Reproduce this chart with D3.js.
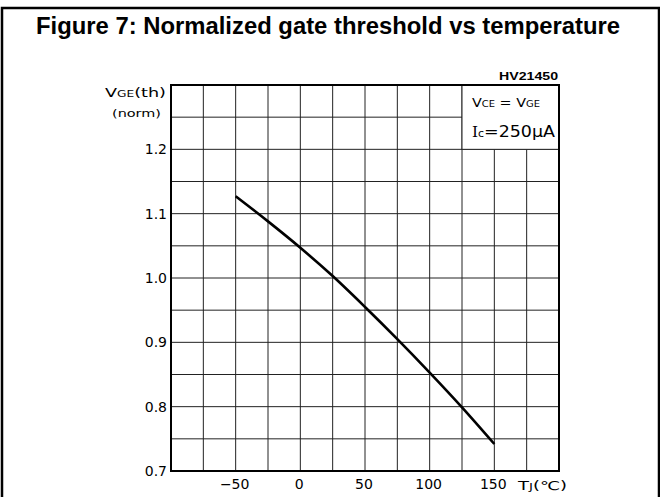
<!DOCTYPE html>
<html>
<head>
<meta charset="utf-8">
<script src="https://cdn.jsdelivr.net/npm/d3@7"></script>
<style>
  body { margin: 0; background: #fff; }
  svg { display: block; }
</style>
</head>
<body>
<svg id="chart" width="660" height="497"></svg>
<script>
// data
const tempC   = [-50, -25, 0, 25, 50, 75, 100, 125, 150];
const vgeNorm = [1.127, 1.088, 1.047, 1.003, 0.955, 0.905, 0.853, 0.799, 0.742];
const xTicks  = [-50, 0, 50, 100, 150];
const yTicks  = [0.7, 0.8, 0.9, 1.0, 1.1, 1.2];

const svg = d3.select('#chart');
const W = 660, H = 497;
const m = { left: 171, right: 559, top: 85, bottom: 471 };

const x = d3.scaleLinear().domain([-100, 200]).range([m.left, m.right]);
const y = d3.scaleLinear().domain([0.7, 1.3]).range([m.bottom, m.top]);

// outer frame (no bottom edge)
svg.append('path')
  .attr('d', `M2,${H} L2,8 L${W - 1},8 L${W - 1},${H}`)
  .attr('fill', 'none').attr('stroke', '#000').attr('stroke-width', 2.5);

// title
svg.append('text')
  .attr('x', 328).attr('y', 34)
  .attr('text-anchor', 'middle')
  .attr('textLength', 584).attr('lengthAdjust', 'spacingAndGlyphs')
  .style('font', 'bold 23px "Liberation Sans", Arial, sans-serif')
  .text('Figure 7: Normalized gate threshold vs temperature');

svg.append('text')
  .attr('x', 558).attr('y', 80)
  .attr('text-anchor', 'end')
  .attr('textLength', 59).attr('lengthAdjust', 'spacingAndGlyphs')
  .style('font', 'bold 10px "Liberation Sans", Arial, sans-serif')
  .text('HV21450');

// grid
const g = svg.append('g');
g.selectAll('line.v')
  .data(d3.range(-75, 200, 25))
  .enter().append('line')
    .attr('x1', d => x(d)).attr('x2', d => x(d))
    .attr('y1', m.top).attr('y2', m.bottom)
    .attr('stroke', '#222').attr('stroke-width', 1);
g.selectAll('line.h')
  .data(d3.range(0.75, 1.29, 0.05))
  .enter().append('line')
    .attr('y1', d => y(d)).attr('y2', d => y(d))
    .attr('x1', m.left).attr('x2', m.right)
    .attr('stroke', '#222').attr('stroke-width', 1);

// condition box
svg.append('rect')
  .attr('x', x(125)).attr('y', y(1.3))
  .attr('width', x(200) - x(125)).attr('height', y(1.2) - y(1.3))
  .attr('fill', '#fff').attr('stroke', '#222').attr('stroke-width', 1);

const cond = svg.append('text')
  .attr('x', 472).attr('y', 107)
  .attr('textLength', 68).attr('lengthAdjust', 'spacingAndGlyphs')
  .style('font', '13px "DejaVu Sans", sans-serif');
cond.append('tspan').text('V');
cond.append('tspan').style('font-size', '9px').text('CE');
cond.append('tspan').text(' = V');
cond.append('tspan').style('font-size', '9px').text('GE');

const ic = svg.append('text')
  .attr('x', 472).attr('y', 137)
  .attr('textLength', 83).attr('lengthAdjust', 'spacingAndGlyphs')
  .style('font', '16px "DejaVu Sans", sans-serif');
ic.append('tspan').style('font-family', '"DejaVu Serif", serif').style('font-size', '14px').text('I');
ic.append('tspan').style('font-size', '10px').text('c');
ic.append('tspan').text('=250μA');

// frame of plot
svg.append('rect')
  .attr('x', m.left).attr('y', m.top)
  .attr('width', m.right - m.left).attr('height', m.bottom - m.top)
  .attr('fill', 'none').attr('stroke', '#000').attr('stroke-width', 2);

// curve
const line = d3.line()
  .x((d, i) => x(tempC[i]))
  .y(d => y(d))
  .curve(d3.curveCatmullRom);
svg.append('path')
  .datum(vgeNorm)
  .attr('d', line)
  .attr('fill', 'none').attr('stroke', '#000').attr('stroke-width', 2.6);

// tick labels
svg.selectAll('text.yt')
  .data(yTicks)
  .enter().append('text')
    .attr('x', 167).attr('y', d => y(d) + 5)
    .attr('text-anchor', 'end')
    .style('font', '14px "DejaVu Sans", sans-serif')
    .text(d => d.toFixed(1));

svg.selectAll('text.xt')
  .data(xTicks)
  .enter().append('text')
    .attr('x', d => x(d) - 1).attr('y', 489)
    .attr('text-anchor', 'middle')
    .style('font', '14px "DejaVu Sans", sans-serif')
    .text(d => d < 0 ? '\u2212' + Math.abs(d) : d);

// axis titles
const yl = svg.append('text')
  .attr('x', 166).attr('y', 97)
  .attr('text-anchor', 'end')
  .attr('textLength', 61).attr('lengthAdjust', 'spacingAndGlyphs')
  .style('font', '13px "DejaVu Sans", sans-serif');
yl.append('tspan').text('V');
yl.append('tspan').style('font-size', '9px').text('GE');
yl.append('tspan').text('(th)');

svg.append('text')
  .attr('x', 161).attr('y', 117)
  .attr('text-anchor', 'end')
  .attr('textLength', 49).attr('lengthAdjust', 'spacingAndGlyphs')
  .style('font', '10px "DejaVu Sans", sans-serif')
  .text('(norm)');

const xl = svg.append('text')
  .attr('x', 518).attr('y', 490)
  .attr('textLength', 49).attr('lengthAdjust', 'spacingAndGlyphs')
  .style('font', '12px "DejaVu Sans", sans-serif');
xl.append('tspan').text('T');
xl.append('tspan').style('font-size', '9px').text('J');
xl.append('tspan').text('(℃)');
</script>
</body>
</html>
